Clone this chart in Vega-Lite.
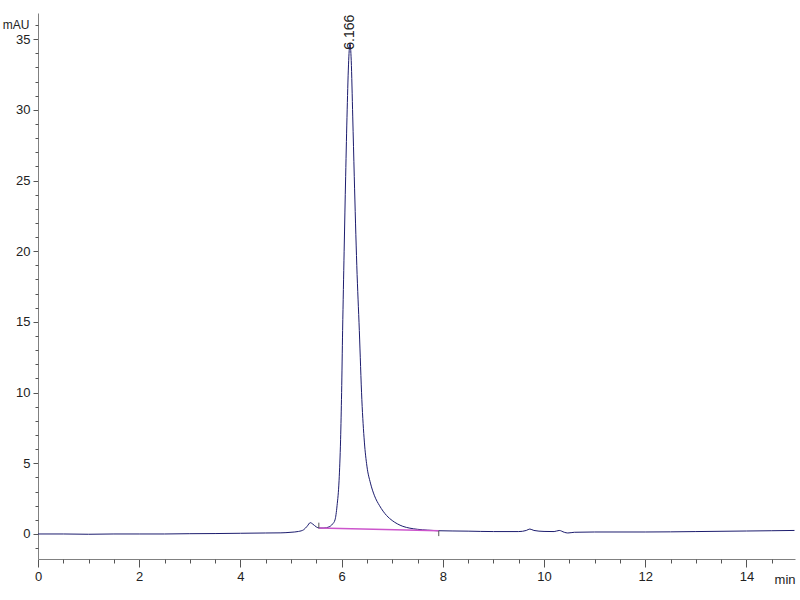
{
  "$schema": "https://vega.github.io/schema/vega-lite/v6.json",
  "width": 757,
  "height": 546,
  "autosize": {"type": "none"},
  "padding": {"left": 38, "top": 13, "right": 5, "bottom": 41},
  "background": "white",
  "config": {
    "view": {"stroke": null},
    "axis": {"grid": false, "domainColor": "#808080", "tickColor": "#555555", "labelColor": "#222222", "labelFont": "Liberation Sans", "labelFontSize": 13, "titleFont": "Liberation Sans", "titleFontSize": 12, "titleFontWeight": "normal", "titleColor": "#222222"}
  },
  "datasets": {
    "trace": [
      {"t": 0.0, "v": 0.0}, {"t": 0.5, "v": 0.0}, {"t": 1.0, "v": -0.02}, {"t": 1.5, "v": 0.0},
      {"t": 2.0, "v": 0.0}, {"t": 2.5, "v": 0.0}, {"t": 3.0, "v": 0.02}, {"t": 3.5, "v": 0.03},
      {"t": 4.0, "v": 0.05}, {"t": 4.5, "v": 0.07}, {"t": 4.8, "v": 0.08}, {"t": 5.0, "v": 0.12},
      {"t": 5.15, "v": 0.18}, {"t": 5.25, "v": 0.3}, {"t": 5.32, "v": 0.55}, {"t": 5.38, "v": 0.8},
      {"t": 5.43, "v": 0.7}, {"t": 5.5, "v": 0.5}, {"t": 5.56, "v": 0.42}, {"t": 5.65, "v": 0.42},
      {"t": 5.75, "v": 0.5}, {"t": 5.82, "v": 0.7}, {"t": 5.87, "v": 1.0}, {"t": 5.91, "v": 2.0},
      {"t": 5.95, "v": 3.8}, {"t": 5.98, "v": 6.7}, {"t": 6.0, "v": 10.0}, {"t": 6.02, "v": 14.4},
      {"t": 6.05, "v": 20.0}, {"t": 6.08, "v": 25.3}, {"t": 6.11, "v": 30.0}, {"t": 6.14, "v": 33.5},
      {"t": 6.166, "v": 34.7}, {"t": 6.19, "v": 33.5}, {"t": 6.22, "v": 29.5}, {"t": 6.25, "v": 25.3},
      {"t": 6.3, "v": 19.0}, {"t": 6.35, "v": 14.4}, {"t": 6.4, "v": 9.5}, {"t": 6.45, "v": 6.5},
      {"t": 6.5, "v": 4.8}, {"t": 6.57, "v": 3.6}, {"t": 6.65, "v": 2.7}, {"t": 6.75, "v": 2.0},
      {"t": 6.89, "v": 1.3}, {"t": 7.0, "v": 0.95}, {"t": 7.1, "v": 0.72},
      {"t": 7.21, "v": 0.54}, {"t": 7.35, "v": 0.41}, {"t": 7.5, "v": 0.33}, {"t": 7.7, "v": 0.27},
      {"t": 7.9, "v": 0.23}, {"t": 8.5, "v": 0.2}, {"t": 9.0, "v": 0.17}, {"t": 9.5, "v": 0.17},
      {"t": 9.65, "v": 0.25}, {"t": 9.72, "v": 0.35}, {"t": 9.8, "v": 0.25}, {"t": 10.0, "v": 0.18},
      {"t": 10.2, "v": 0.17}, {"t": 10.3, "v": 0.25}, {"t": 10.4, "v": 0.12}, {"t": 10.47, "v": 0.07},
      {"t": 10.6, "v": 0.12}, {"t": 11.0, "v": 0.14}, {"t": 12.0, "v": 0.14}, {"t": 13.0, "v": 0.17},
      {"t": 14.0, "v": 0.21}, {"t": 14.5, "v": 0.23}, {"t": 14.95, "v": 0.25}
    ],
    "baseline": [
      {"t": 5.55, "v": 0.42}, {"t": 7.92, "v": 0.23}
    ],
    "ends": [
      {"t": 5.55, "v1": 0.4, "v2": 0.8}, {"t": 7.92, "v1": 0.23, "v2": -0.15}
    ],
    "label": [
      {"t": 6.166, "v": 34.25, "text": "6.166"}
    ]
  },
  "layer": [
    {
      "data": {"name": "trace"},
      "mark": {"type": "line", "color": "#1c1c6e", "strokeWidth": 1, "interpolate": "monotone"},
      "encoding": {
        "x": {"field": "t", "type": "quantitative", "scale": {"domain": [0, 14.96], "nice": false, "zero": false},
          "axis": {"orient": "bottom", "values": [0, 2, 4, 6, 8, 10, 12, 14], "tickSize": 8, "labelPadding": 3, "title": "min", "titleFontSize": 13, "titleAngle": 0, "titleAlign": "right", "titleAnchor": null, "titleX": 757, "titleY": 24, "titleBaseline": "alphabetic", "labelFlush": false, "labelOverlap": false}},
        "y": {"field": "v", "type": "quantitative", "scale": {"domain": [-1.77, 36.85], "nice": false, "zero": false},
          "axis": {"orient": "left", "values": [0, 5, 10, 15, 20, 25, 30, 35], "tickSize": 5, "labelPadding": 3, "title": "mAU", "titleAngle": 0, "titleAlign": "right", "titleAnchor": null, "titleX": -9, "titleY": 15, "titleBaseline": "alphabetic", "labelFlush": false, "labelOverlap": false}}
      }
    },
    {
      "data": {"name": "baseline"},
      "mark": {"type": "line", "color": "#cc55cc", "strokeWidth": 1.5},
      "encoding": {
        "x": {"field": "t", "type": "quantitative",
          "axis": {"orient": "bottom", "values": [0.5, 1, 1.5, 2.5, 3, 3.5, 4.5, 5, 5.5, 6.5, 7, 7.5, 8.5, 9, 9.5, 10.5, 11, 11.5, 12.5, 13, 13.5, 14.5], "tickSize": 4, "labels": false, "domain": false, "title": null}},
        "y": {"field": "v", "type": "quantitative",
          "axis": {"orient": "left", "values": [-1, 1, 2, 3, 4, 6, 7, 8, 9, 11, 12, 13, 14, 16, 17, 18, 19, 21, 22, 23, 24, 26, 27, 28, 29, 31, 32, 33, 34, 36], "tickSize": 3, "labels": false, "domain": false, "title": null}}
      }
    },
    {
      "data": {"name": "ends"},
      "mark": {"type": "rule", "color": "#555555", "strokeWidth": 1},
      "encoding": {
        "x": {"field": "t", "type": "quantitative", "axis": null},
        "y": {"field": "v1", "type": "quantitative", "axis": null},
        "y2": {"field": "v2"}
      }
    },
    {
      "data": {"name": "label"},
      "mark": {"type": "text", "angle": 270, "align": "left", "baseline": "middle", "font": "Liberation Sans", "fontSize": 14, "color": "#222222"},
      "encoding": {
        "x": {"field": "t", "type": "quantitative", "axis": null},
        "y": {"field": "v", "type": "quantitative", "axis": null},
        "text": {"field": "text"}
      }
    }
  ],
  "resolve": {"axis": {"x": "independent", "y": "independent"}}
}
